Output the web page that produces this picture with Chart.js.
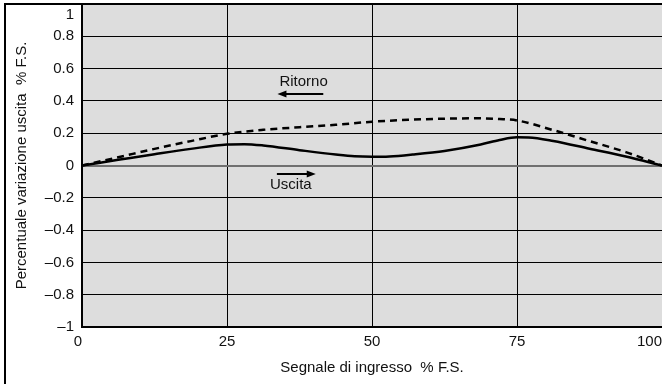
<!DOCTYPE html>
<html><head><meta charset="utf-8">
<script src="https://cdn.jsdelivr.net/npm/chart.js@4"></script>
<style>html,body{margin:0;padding:0;background:#fff;}canvas{display:block}</style>
</head><body>
<canvas id="c" width="662" height="384"></canvas>
<script>
// ---- data ----
const seriesNames = ['Uscita', 'Ritorno'];
const xUscita = [0, 6.25, 12.5, 18.75, 25, 28, 31.25, 37.5, 43.75, 47, 50, 53, 57, 62.5, 68.75, 72, 75, 77, 81.25, 87.5, 93.75, 100];
const yUscita = [0, 0.035, 0.07, 0.103, 0.13, 0.132, 0.124, 0.095, 0.068, 0.057, 0.054, 0.056, 0.068, 0.09, 0.13, 0.158, 0.175, 0.174, 0.152, 0.104, 0.056, 0];
const xRitorno = [0, 6.25, 12.5, 18.75, 25, 31.25, 37.5, 43.75, 50, 56.25, 62.5, 68.75, 72, 75, 81.25, 87.5, 93.75, 100];
const yRitorno = [0, 0.051, 0.103, 0.151, 0.196, 0.221, 0.237, 0.252, 0.271, 0.283, 0.29, 0.292, 0.288, 0.279, 0.219, 0.151, 0.083, 0];
const xTickLabels = ['0', '25', '50', '75', '100'];
const yTickLabels = ['\u20131', '\u20130.8', '\u20130.6', '\u20130.4', '\u20130.2', '0', '0.2', '0.4', '0.6', '0.8', '1'];
const xTitle = 'Segnale di ingresso  % F.S.';
const yTitle = 'Percentuale variazione uscita  % F.S.';
const noteTexts = ['Ritorno', 'Uscita'];
const noteX = [38.2, 36.0];
const noteY = [0.517, -0.118];
const arrowFrom = [41.6, 33.6];
const arrowTo = [33.7, 40.3];
const arrowY = [0.444, -0.052];

const FONT = '"Liberation Sans", Arial, Helvetica, sans-serif';
Chart.defaults.font.family = FONT;
Chart.defaults.font.size = 15;
Chart.defaults.color = '#111';

const decor = {
  id: 'decor',
  beforeDraw(chart) {
    const {ctx, chartArea: a} = chart;
    ctx.save();
    ctx.fillStyle = '#dddddd';
    ctx.fillRect(a.left, a.top, a.right - a.left, a.bottom - a.top);
    ctx.restore();
    const xs = chart.scales.x.getLabelItems();
    if (xs.length) {
      xs[0].options.textAlign = 'right';
      xs[xs.length - 1].options.textAlign = 'right';
    }
    const ys = chart.scales.y.getLabelItems();
    ys.forEach(it => {
      if (it.label === yTickLabels[yTickLabels.length - 1] && !it._shifted) {
        it.options.translation[1] += 11;
        it._shifted = true;
      }
    });
  },
  afterDatasetsDraw(chart) {
    const {ctx} = chart;
    const sx = chart.scales.x, sy = chart.scales.y;
    ctx.save();
    ctx.fillStyle = '#111';
    ctx.font = '15px ' + FONT;
    ctx.textAlign = 'center';
    ctx.textBaseline = 'middle';
    noteTexts.forEach((t, i) => {
      ctx.fillText(t, sx.getPixelForValue(noteX[i]), sy.getPixelForValue(noteY[i]));
    });
    ctx.strokeStyle = '#000';
    ctx.fillStyle = '#000';
    ctx.lineWidth = 2;
    arrowFrom.forEach((f, i) => {
      const x1 = sx.getPixelForValue(f), x2 = sx.getPixelForValue(arrowTo[i]);
      const y = Math.round(sy.getPixelForValue(arrowY[i]));
      const dir = Math.sign(x2 - x1);
      ctx.beginPath();
      ctx.moveTo(x1, y);
      ctx.lineTo(x2 - dir * 6, y);
      ctx.stroke();
      ctx.beginPath();
      ctx.moveTo(x2, y);
      ctx.lineTo(x2 - dir * 9, y - 3.5);
      ctx.lineTo(x2 - dir * 9, y + 3.5);
      ctx.closePath();
      ctx.fill();
    });
    ctx.restore();
  },
  afterDraw(chart) {
    const {ctx, chartArea: a} = chart;
    ctx.save();
    ctx.strokeStyle = '#000';
    ctx.lineWidth = 2;
    ctx.beginPath();
    ctx.moveTo(5, chart.height);
    ctx.lineTo(5, a.top);
    ctx.lineTo(chart.width, a.top);
    ctx.stroke();
    ctx.restore();
  }
};

const toPts = (xs, ys) => xs.map((x, i) => ({x, y: ys[i]}));

new Chart(document.getElementById('c'), {
  type: 'line',
  data: {
    datasets: [
      {label: seriesNames[0], data: toPts(xUscita, yUscita), borderColor: '#000', borderWidth: 2.5,
       pointRadius: 0, cubicInterpolationMode: 'monotone', fill: false},
      {label: seriesNames[1], data: toPts(xRitorno, yRitorno), borderColor: '#000', borderWidth: 2.5,
       borderDash: [7, 5], pointRadius: 0, cubicInterpolationMode: 'monotone', fill: false}
    ]
  },
  options: {
    responsive: false,
    animation: false,
    layout: {padding: {top: 4, right: 0, bottom: 0, left: 0}},
    plugins: {legend: {display: false}, tooltip: {enabled: false}},
    scales: {
      x: {
        type: 'linear', min: 0, max: 100,
        ticks: {stepSize: 25, padding: 6, maxRotation: 0, color: '#111',
                callback: (v, i) => xTickLabels[i]},
        grid: {drawTicks: false, color: '#000', lineWidth: 1},
        border: {display: true, color: '#000', width: 2},
        title: {display: true, text: xTitle, color: '#111', font: {size: 15}, padding: {top: 0, bottom: 7}},
        afterFit(s) { s.height = 57; s.paddingLeft = 0; s.paddingRight = 0; }
      },
      y: {
        type: 'linear', min: -1, max: 1,
        ticks: {stepSize: 0.2, padding: 8, color: '#111',
                callback: (v, i) => yTickLabels[i]},
        grid: {drawTicks: false,
               color: c => (c.tick && Math.abs(c.tick.value) < 1e-9) ? '#707070' : '#000',
               lineWidth: c => (c.tick && Math.abs(c.tick.value) < 1e-9) ? 2 : 1},
        border: {display: true, color: '#000', width: 2},
        title: {display: true, text: yTitle, color: '#111', font: {size: 15}, padding: {top: 13, bottom: 0}},
        afterFit(s) { s.width = 82; s.paddingTop = 0; s.paddingBottom = 0; }
      }
    }
  },
  plugins: [decor]
});
</script>
</body></html>
